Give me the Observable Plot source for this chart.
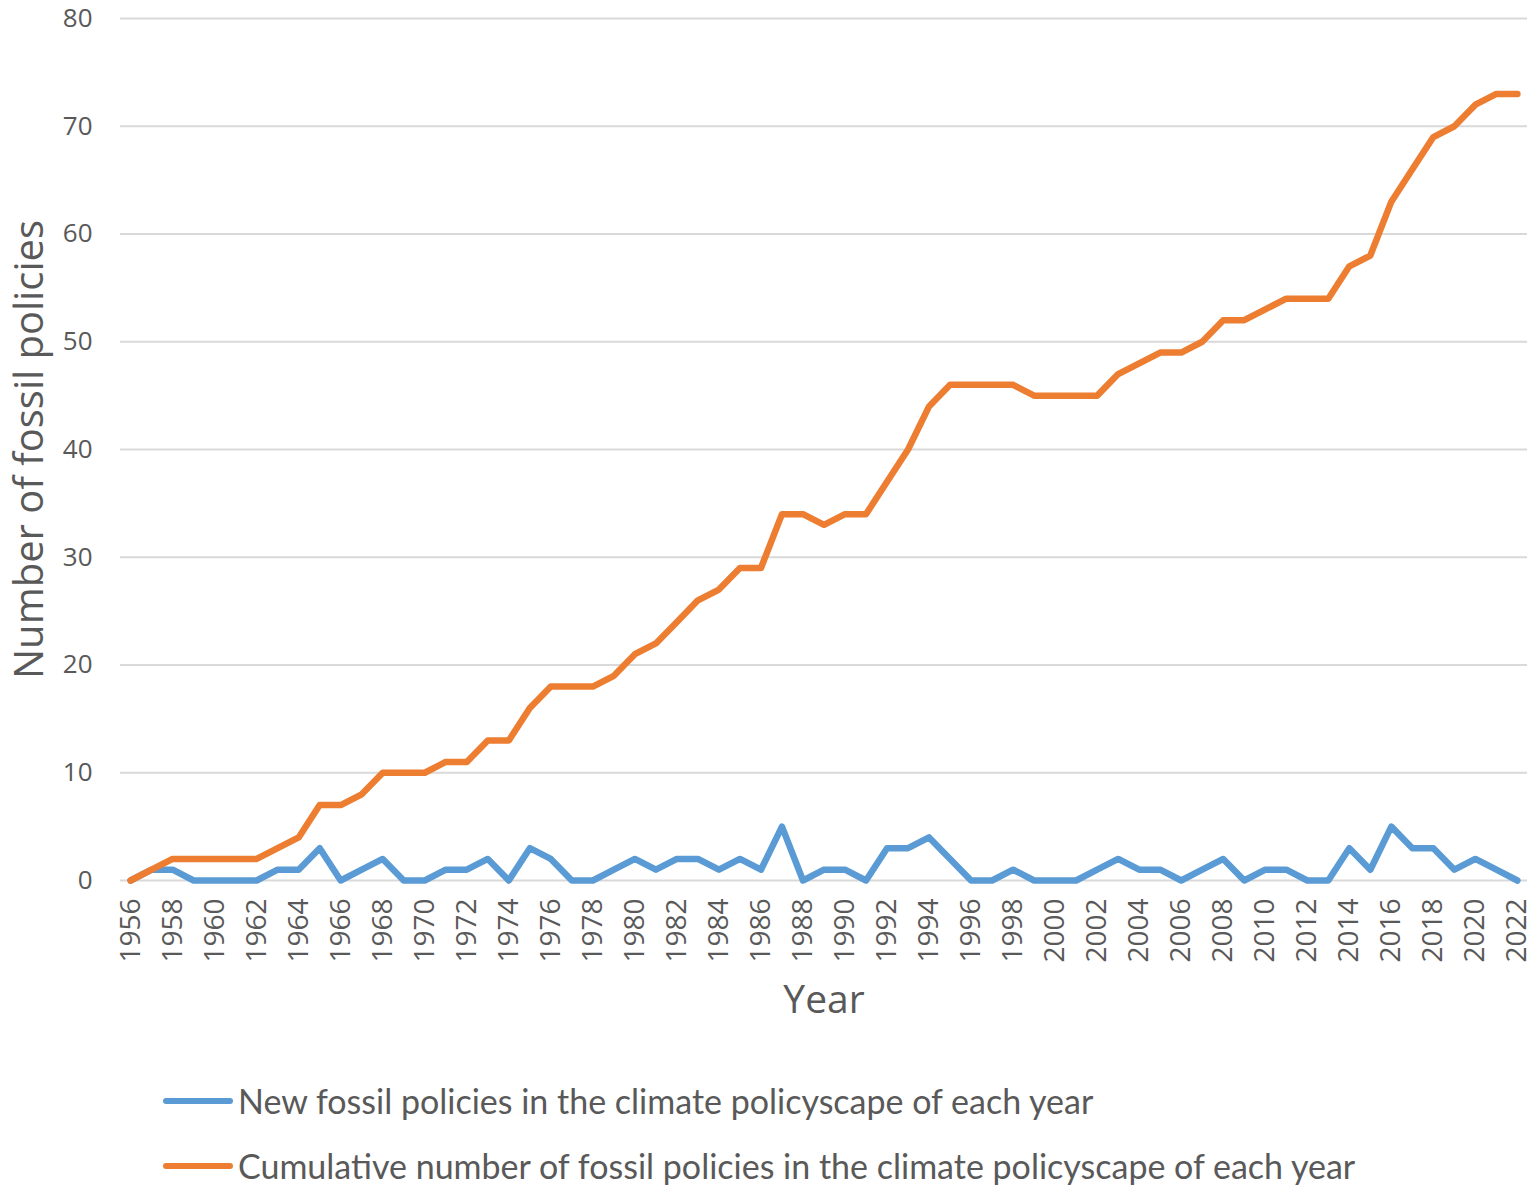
<!DOCTYPE html>
<html><head><meta charset="utf-8">
<script src="https://cdn.jsdelivr.net/npm/d3@7"></script>
<script src="https://cdn.jsdelivr.net/npm/@observablehq/plot@0.6"></script>
<style>
body{margin:0;background:#fff;font-family:"Open Sans",sans-serif;}
#wrap{position:relative;width:1536px;height:1193px;overflow:hidden;}
#wrap svg{display:block;}
.leg{position:absolute;left:163px;height:44px;line-height:44px;display:flex;align-items:center;color:#595959;font-family:"Lato",sans-serif;font-size:34px;white-space:nowrap;}
.sw{width:70px;height:6px;border-radius:3px;margin-right:5px;}
</style></head>
<body><div id="wrap"></div>
<script>
const years = [1956,1957,1958,1959,1960,1961,1962,1963,1964,1965,1966,1967,1968,1969,1970,1971,1972,1973,1974,1975,1976,1977,1978,1979,1980,1981,1982,1983,1984,1985,1986,1987,1988,1989,1990,1991,1992,1993,1994,1995,1996,1997,1998,1999,2000,2001,2002,2003,2004,2005,2006,2007,2008,2009,2010,2011,2012,2013,2014,2015,2016,2017,2018,2019,2020,2021,2022];
const newPolicies = [0,1,1,0,0,0,0,1,1,3,0,1,2,0,0,1,1,2,0,3,2,0,0,1,2,1,2,2,1,2,1,5,0,1,1,0,3,3,4,2,0,0,1,0,0,0,1,2,1,1,0,1,2,0,1,1,0,0,3,1,5,3,3,1,2,1,0];
const cumulative = [0,1,2,2,2,2,2,3,4,7,7,8,10,10,10,11,11,13,13,16,18,18,18,19,21,22,24,26,27,29,29,34,34,33,34,34,37,40,44,46,46,46,46,45,45,45,45,47,48,49,49,50,52,52,53,54,54,54,57,58,63,66,69,70,72,73,73];
const xTicks = [1956,1958,1960,1962,1964,1966,1968,1970,1972,1974,1976,1978,1980,1982,1984,1986,1988,1990,1992,1994,1996,1998,2000,2002,2004,2006,2008,2010,2012,2014,2016,2018,2020,2022];
const yTicks = [0,10,20,30,40,50,60,70,80];
const seriesNames = ["New fossil policies in the climate policyscape of each year","Cumulative number of fossil policies in the climate policyscape of each year"];
const seriesColors = ["#5B9BD5","#ED7D31"];
const yTitle = "Number of fossil policies";
const xTitle = "Year";

const data = years.map((y,i)=>({year:y, newP:newPolicies[i], cum:cumulative[i]}));

const chart = Plot.plot({
  width:1536, height:1060,
  marginLeft:120, marginRight:9, marginTop:18, marginBottom:180,
  style:{fontFamily:"Open Sans", color:"#595959", background:"#fff"},
  x:{domain:[1955.52, 2022.48], label:null},
  y:{domain:[0,80], label:null},
  marks:[
    Plot.ruleY(yTicks, {stroke:"#d9d9d9", strokeWidth:2}),
    Plot.axisY({ticks:yTicks, tickSize:0, tickPadding:28, fontSize:26, label:null}),
    Plot.axisX({ticks:xTicks, tickSize:0, tickPadding:18, tickRotate:-90, fontSize:28, tickFormat:d=>String(d), label:null}),
    Plot.line(data, {x:"year", y:"newP", stroke:seriesColors[0], strokeWidth:6.5, strokeLinejoin:"round", strokeLinecap:"round"}),
    Plot.line(data, {x:"year", y:"cum", stroke:seriesColors[1], strokeWidth:6.5, strokeLinejoin:"round", strokeLinecap:"round"}),
    Plot.text([yTitle], {frameAnchor:"left", textAnchor:"middle", dx:-90, rotate:-90, fontSize:40, fill:"#595959"}),
    Plot.text([xTitle], {frameAnchor:"bottom", dy:132, fontSize:39, fill:"#595959"})
  ]
});
const wrap = document.getElementById("wrap");
wrap.appendChild(chart);
const tops = [1079, 1144];
seriesNames.forEach((n,i)=>{
  const d = document.createElement("div");
  d.className = "leg";
  d.style.top = tops[i] + "px";
  const s = document.createElement("span");
  s.className = "sw"; s.style.background = seriesColors[i];
  const t = document.createElement("span");
  t.textContent = n;
  d.appendChild(s); d.appendChild(t);
  wrap.appendChild(d);
});
</script>
</body></html>
